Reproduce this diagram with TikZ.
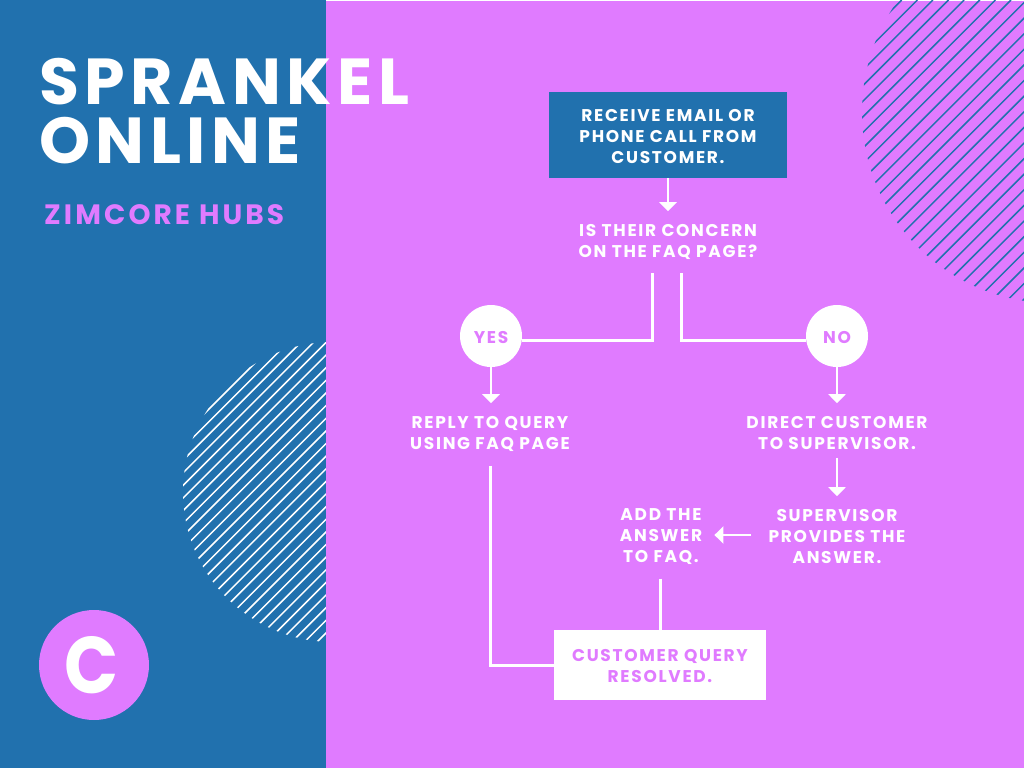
\documentclass[tikz,border=0pt]{standalone}
\usepackage{fontspec}
\setmainfont{Poppins}
\newfontfamily\flowfont[LetterSpace=10]{Poppins}
\newfontfamily\titlefont[LetterSpace=8.5]{Poppins}
\newfontfamily\hubsfont[LetterSpace=11]{Poppins}
\usetikzlibrary{arrows.meta}
\definecolor{panelblue}{HTML}{2171AE}
\definecolor{panelpink}{HTML}{E07BFF}
\newcommand{\firstline}[1]{\rule{0pt}{#1}}
\tikzset{
  flowtext/.style={text=white,align=center,inner xsep=0pt,inner ysep=13pt,font=\flowfont\bfseries\fontsize{17}{21}\selectfont},
  flowbox/.style={flowtext,inner ysep=0pt,minimum width=238pt,minimum height=86pt,fill=panelblue},
  endbox/.style={flowtext,inner ysep=0pt,text=panelpink,minimum width=212pt,minimum height=70pt,fill=white},
  answer/.style={circle,fill=white,text=panelpink,minimum size=62pt,inner sep=0pt,font=\flowfont\bfseries\fontsize{17}{21}\selectfont},
  flowline/.style={white,line width=3pt},
  flowarrow/.style={white,line width=2.6pt,-{Triangle[width=17pt,length=9pt]}},
  hatch/.style={line width=1.5pt},
  maintitle/.style={text=white,align=left,anchor=north west,inner sep=0pt,font=\titlefont\bfseries\fontsize{65}{59}\selectfont}
}
\begin{document}
\begin{tikzpicture}[x=1pt,y=-1pt]
\useasboundingbox (0,0) rectangle (1024,768);
\fill[panelblue] (0,0) rectangle (326,768);
% white hatching on the blue side
\begin{scope}
\clip (333,492) circle (150);
\foreach \k in {0,...,27}
  \draw[hatch,white] ({618+12.63*\k},0) -- (0,{618+12.63*\k});
\end{scope}
\fill[panelpink] (326,0) rectangle (1024,768);
\fill[white] (326,0) rectangle (1024,1);
% blue hatching on the pink side
\begin{scope}
\clip (326,1) rectangle (1024,768);
\clip (1053,112) circle (191);
\foreach \k in {0,...,27}
  \draw[hatch,panelblue] ({901.7+15.61*\k},0) -- (0,{901.7+15.61*\k});
\end{scope}
\node[maintitle] (title) at (39,58) {SPRANKEL\\ONLINE};
\node[text=panelpink,anchor=base west,inner sep=0pt,font=\hubsfont\bfseries\fontsize{28}{28}\selectfont] (hubs) at (44,224) {ZIMCORE HUBS};
\node[circle,fill=panelpink,minimum size=110pt,inner sep=0pt,text=white,font=\bfseries\fontsize{78}{78}\selectfont] (logo) at (94,665) {\scalebox{0.91}[1.03]{C}\kern4pt};
% flow
\node[flowbox] (receive) at (668,135) {\firstline{16pt}RECEIVE EMAIL OR\\PHONE CALL FROM\\CUSTOMER.};
\node[flowtext] (concern) at (668,242) {IS THEIR CONCERN\\ON THE FAQ PAGE?};
\node[answer] (yes) at (491,336) {\firstline{16pt}YES};
\node[answer] (no) at (837,336) {\firstline{16pt}NO};
\node[flowtext] (reply) at (490,434) {REPLY TO QUERY\\USING FAQ PAGE};
\node[flowtext] (direct) at (837,433) {DIRECT CUSTOMER\\TO SUPERVISOR.};
\node[flowtext] (supervisor) at (837,536.5) {SUPERVISOR\\PROVIDES THE\\ANSWER.};
\node[flowtext] (add) at (661,536.5) {ADD THE\\ANSWER\\TO FAQ.};
\node[endbox] (resolved) at (660,665) {\firstline{14pt}CUSTOMER QUERY\\RESOLVED.};
\coordinate (yesstart) at (652,273);
\coordinate (nostart) at (681,273);
\coordinate (yesturn) at (652,340);
\coordinate (noturn) at (681,340);
\draw[flowarrow] (receive.south) -- (receive.south |- concern.north);
\draw[flowline] (yesstart) -- (yesturn) -- (yes.east |- yesturn);
\draw[flowline] (nostart) -- (noturn) -- (no.west |- noturn);
\draw[flowarrow] (yes.south) -- (yes.south |- reply.north);
\draw[flowarrow] (no.south) -- (no.south |- direct.north);
\draw[flowarrow,shorten <=-5pt] (direct.south) -- (supervisor.north);
\draw[flowarrow,shorten <=17pt,shorten >=12pt] ([yshift=1.5pt]supervisor.west) -- ([yshift=1.5pt]add.east);
\draw[flowline,shorten <=1pt] (resolved.north |- add.south) -- (resolved.north);
\draw[flowline,shorten <=1pt] (reply.south) |- (resolved.west);
\end{tikzpicture}
\end{document}
